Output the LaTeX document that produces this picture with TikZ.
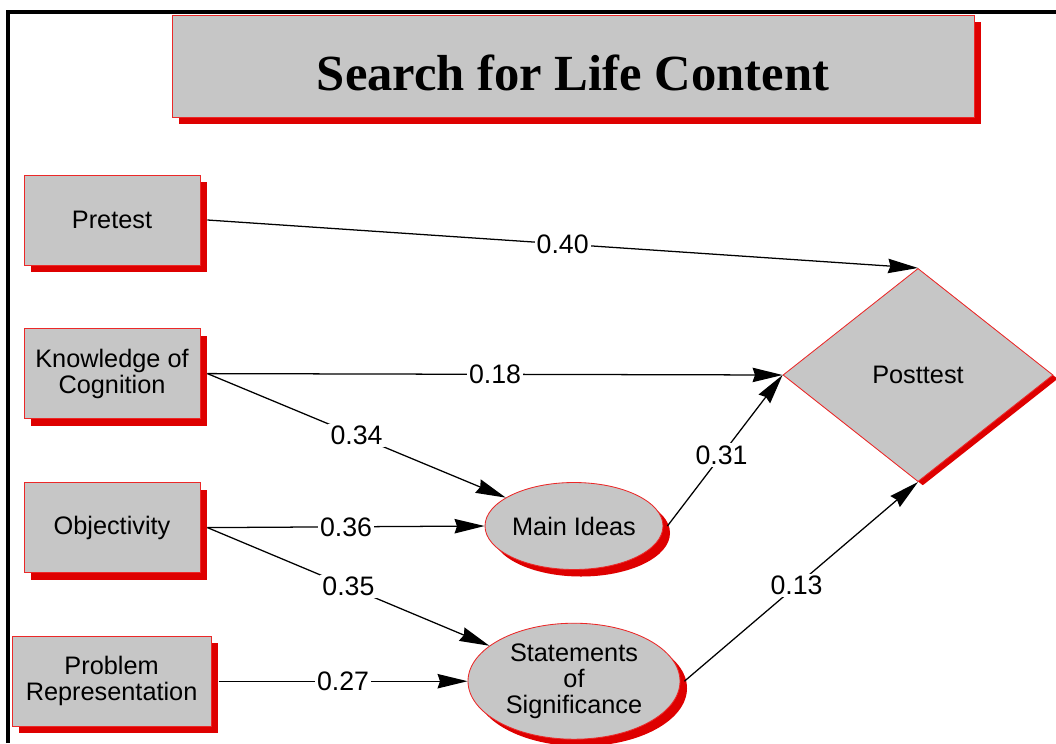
\documentclass[tikz,border=0pt]{standalone}
\usepackage{fontspec}
\setmainfont{Liberation Sans}
\newfontfamily\titlefont{Liberation Serif}
\usetikzlibrary{shapes.geometric,shadows,arrows.meta}
\definecolor{boxgray}{RGB}{198,198,198}
\definecolor{shadowred}{RGB}{222,0,0}
\definecolor{edgered}{RGB}{235,40,40}
\tikzset{
	redshadow/.style={drop shadow={shadow xshift=0.175cm, shadow yshift=-0.175cm, fill=shadowred, opacity=1}},
	varbox/.style={draw=edgered, line width=0.6pt, fill=boxgray, redshadow, minimum width=4.4cm, minimum height=2.25cm, inner sep=0pt, align=center, font=\fontsize{18}{18.5}\selectfont},
	varoval/.style={ellipse, draw=edgered, line width=0.6pt, fill=boxgray, redshadow, inner sep=0pt, align=center, font=\fontsize{18}{18.5}\selectfont},
	titlebox/.style={draw=edgered, line width=0.6pt, fill=boxgray, redshadow, minimum width=20.05cm, minimum height=2.55cm, text height=35pt, text depth=0pt, font=\titlefont\bfseries\fontsize{36}{40}\selectfont},
	path/.style={line width=0.9pt, -{Stealth[length=0.75cm,width=0.36cm,inset=0.06cm]}},
	elabel/.style={fill=white, inner sep=1.5pt, font=\fontsize{19}{19}\selectfont}
}

\begin{document}
\begin{tikzpicture}
			%%%%% START %%%%%
			\useasboundingbox (0,0) rectangle (26.4,-18.575);
			
			\draw[line width=2.2pt] (0.2,-18.575) -- (0.2,-0.3) -- (26.4,-0.3);
			
			\node[titlebox] (title) at (14.325,-1.65) {Search for Life Content};
			
			\node[varbox] (pre) at (2.8,-5.5) {Pretest};
			\node[varbox] (know) at (2.8,-9.34) {Knowledge of\\Cognition};
			\node[varbox] (obj) at (2.8,-13.19) {Objectivity};
			\node[varbox, minimum width=4.975cm] (prob) at (2.79,-17.03) {Problem\\Representation};
			
			\node[varoval, minimum width=4.45cm, minimum height=2.175cm] (main) at (14.35,-13.15) {Main Ideas};
			\node[varoval, minimum width=5.3cm, minimum height=2.9cm] (stat) at (14.35,-17.03) {Statements\\of\\Significance};
			
			\node[diamond, aspect=1.27, draw=edgered, line width=0.6pt, fill=boxgray, drop shadow={shadow xshift=0.12cm, shadow yshift=-0.095cm, fill=shadowred, opacity=1}, minimum width=6.75cm, minimum height=5.33cm, inner sep=0pt, font=\fontsize{18}{18.5}\selectfont] (post) at (22.95,-9.375) {Posttest};
			
			\draw[path] ([xshift=0.175cm]pre.east) -- node[elabel] {0.40} (post.north);
			\draw[path] ([xshift=0.175cm]know.east) -- node[elabel] {0.18} (post.west);
			\draw[path] ([xshift=0.175cm]know.east) -- node[elabel] {0.34} (main);
			\draw[path] ([xshift=0.175cm]obj.east) -- node[elabel] {0.36} (main.west);
			\draw[path] ([xshift=0.175cm]obj.east) -- node[elabel] {0.35} (stat);
			\draw[path] ([xshift=0.175cm]prob.east) -- node[elabel] {0.27} (stat.west);
			\draw[path] ([xshift=0.1cm]main.east) -- node[elabel, pos=0.47] {0.31} (post.west);
			\draw[path] ([xshift=0.1cm]stat.east) -- node[elabel, pos=0.48] {0.13} (post.south);
			
			%%%%% END %%%%%
		\end{tikzpicture}
\end{document}
